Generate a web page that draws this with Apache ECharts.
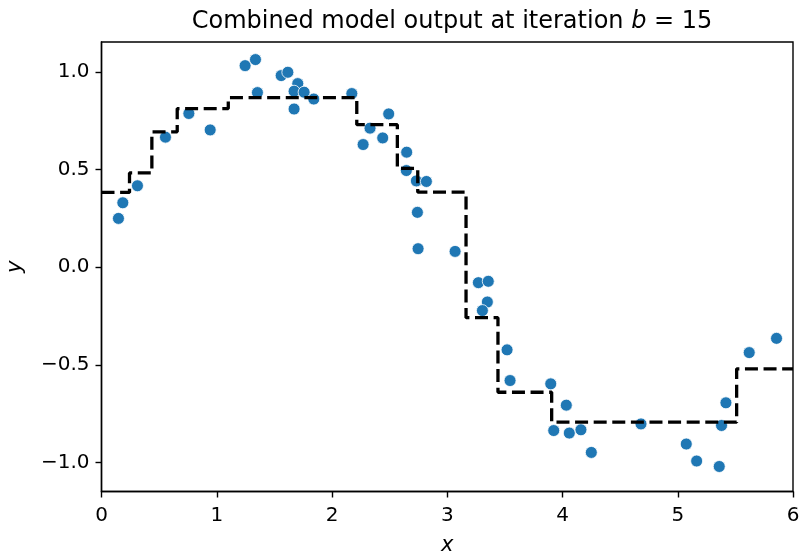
<!DOCTYPE html>
<html>
<head>
<meta charset="utf-8">
<script src="https://cdn.jsdelivr.net/npm/echarts@6/dist/echarts.min.js"></script>
<style>
  html, body { margin: 0; padding: 0; background: #fff; }
  #chart { width: 803px; height: 554px; }
</style>
</head>
<body>
<div id="chart"></div>
<script>
// training samples
const sampleX = [0.147, 0.185, 0.312, 0.555, 0.758, 0.943, 1.246, 1.336, 1.353, 1.559,
  1.617, 1.703, 1.671, 1.758, 1.671, 1.842, 2.172, 2.492, 2.330, 2.270,
  2.440, 2.648, 2.645, 2.732, 2.819, 2.741, 2.747, 3.068, 3.270, 3.356,
  3.348, 3.305, 3.519, 3.545, 3.898, 4.033, 3.924, 4.059, 4.160, 4.250,
  4.681, 5.074, 5.164, 5.360, 5.380, 5.418, 5.620, 5.857];
const sampleY = [0.250, 0.330, 0.417, 0.666, 0.787, 0.703, 1.032, 1.063, 0.894, 0.981,
  0.998, 0.940, 0.901, 0.896, 0.810, 0.861, 0.889, 0.785, 0.712, 0.628,
  0.662, 0.589, 0.495, 0.442, 0.439, 0.281, 0.095, 0.081, -0.079, -0.072,
  -0.178, -0.222, -0.423, -0.580, -0.597, -0.706, -0.836, -0.849, -0.832, -0.948,
  -0.802, -0.905, -0.992, -1.020, -0.810, -0.694, -0.437, -0.364];

// combined model: split points and the level on each piece
const stepEdges = [0.243, 0.437, 0.657, 1.10, 2.215, 2.567, 2.744, 3.163, 3.440, 3.906, 5.511];
const stepLevels = [0.383, 0.483, 0.693, 0.812, 0.868, 0.730, 0.506, 0.384, -0.258, -0.640, -0.793, -0.520];

const xTicks = [0, 1, 2, 3, 4, 5, 6];
const yTicks = [-1.0, -0.5, 0.0, 0.5, 1.0];

const font = 'DejaVu Sans';

const scatterData = sampleX.map((x, i) => [x, sampleY[i]]);

let stepData = [[0, stepLevels[0]]];
for (let i = 0; i < stepEdges.length; i++) {
  stepData.push([stepEdges[i], stepLevels[i + 1]]);
}
stepData.push([6, stepLevels[stepLevels.length - 1]]);

const fmtY = (v) => (v < 0 ? '\u2212' : '') + Math.abs(v).toFixed(1);

const chart = echarts.init(document.getElementById('chart'), null, { renderer: 'canvas' });

const option = {
  backgroundColor: '#fff',
  animation: false,
  title: {
    text: 'Combined model output at iteration {i|b} = 15',
    left: 447,
    textAlign: 'center',
    top: 5,
    textStyle: {
      fontFamily: font,
      fontWeight: 'normal',
      fontSize: 24,
      color: '#000',
      rich: {
        i: { fontFamily: font, fontStyle: 'italic', fontSize: 24, color: '#000' }
      }
    }
  },
  grid: {
    left: 101.5, right: 10, top: 42, bottom: 62.5,
    outerBoundsMode: 'none', containLabel: false,
    show: true, borderColor: '#000', borderWidth: 1.4
  },
  xAxis: {
    type: 'value',
    min: 0,
    max: 6,
    interval: 1,
    name: 'x',
    nameLocation: 'middle',
    nameGap: 44,
    nameTextStyle: { fontFamily: font, fontStyle: 'italic', fontSize: 21, color: '#000' },
    axisLine: { show: true, onZero: false, lineStyle: { color: '#000', width: 1.4 } },
    axisTick: { show: true, length: 6, lineStyle: { color: '#000', width: 1.4 } },
    axisLabel: {
      customValues: xTicks,
      fontFamily: font, fontSize: 20, color: '#000', margin: 14
    },
    splitLine: { show: false }
  },
  yAxis: {
    type: 'value',
    min: -1.148,
    max: 1.153,
    name: 'y',
    nameLocation: 'middle',
    nameGap: 75,
    nameTextStyle: { fontFamily: font, fontStyle: 'italic', fontSize: 21, color: '#000' },
    axisLine: { show: true, onZero: false, lineStyle: { color: '#000', width: 1.4 } },
    axisTick: { show: true, customValues: yTicks, length: 6, lineStyle: { color: '#000', width: 1.4 } },
    axisLabel: {
      customValues: yTicks,
      formatter: fmtY,
      fontFamily: font, fontSize: 20, color: '#000', margin: 12
    },
    splitLine: { show: false }
  },
  series: [
    {
      type: 'scatter',
      data: scatterData,
      symbol: 'circle',
      symbolSize: 12,
      itemStyle: { color: '#1f77b4', borderColor: '#fff', borderWidth: 0.8, opacity: 1 },
      z: 2
    },
    {
      type: 'line',
      data: stepData,
      step: 'end',
      showSymbol: false,
      symbol: 'none',
      lineStyle: { color: '#000', width: 3.3, type: [13, 5.6], cap: 'butt' },
      z: 3
    }
  ]
};

chart.setOption(option);
</script>
</body>
</html>
